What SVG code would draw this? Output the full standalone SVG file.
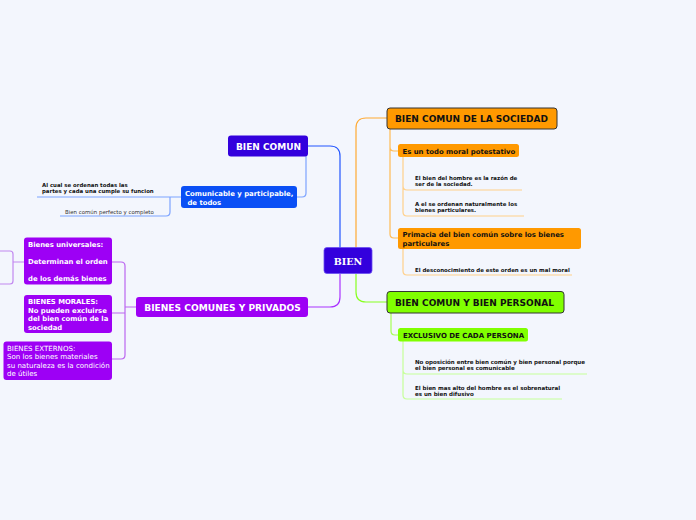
<svg xmlns="http://www.w3.org/2000/svg" width="696" height="520" viewBox="0 0 696 520">
<style>
.b{font-family:"DejaVu Sans",Verdana,sans-serif;font-weight:bold}
.r{font-family:"DejaVu Sans",Verdana,sans-serif}
.w{fill:#fff}
.k{fill:#111}
.s{font-size:5.45px}
.c{fill:none;stroke-width:1.2}
</style>
<rect width="696" height="520" fill="#f3f6fd"/>
<g id="connectors">
<path class="c" d="M308,146 H330 Q340,146 340,156 V248" stroke="#2255ff"/>
<path class="c" d="M356,248 V128 Q356,118 366,118 H387" stroke="#ffaa33"/>
<path class="c" d="M356,274 V292 Q356,302 366,302 H387" stroke="#88ff22"/>
<path class="c" d="M340,274 V297 Q340,307 330,307 H308" stroke="#aa33ff"/>
<path class="c" d="M306,156 V193 Q306,197 302,197 H297" stroke="#7da3ff"/>
<path class="c" d="M181,197 H37 M170,197 V212 Q170,216 166,216 H60" stroke="#7da3ff"/>
<path class="c" d="M390,129 V147 Q390,151 394,151 H398 M390,147 V234 Q390,238 394,238 H398" stroke="#ffbb55"/>
<path class="c" d="M403,157 V186 Q403,190 407,190 H522 M403,186 V212 Q403,216 407,216 H524" stroke="#ffd08a"/>
<path class="c" d="M403,249 V271 Q403,275 407,275 H572" stroke="#ffd08a"/>
<path class="c" d="M391,313 V331 Q391,335 395,335 H398" stroke="#a6ff55"/>
<path class="c" d="M403,341 V370 Q403,374 407,374 H587 M403,370 V395 Q403,399 407,399 H562" stroke="#c6ff99"/>
<path class="c" d="M136,307 H125 M112,262 H121 Q125,262 125,266 V355 Q125,359 121,359 H112 M125,313 H112" stroke="#bb66f0"/>
<path class="c" d="M24,262 H13 M0,251 H10 Q13,251 13,254 V281 Q13,284 10,284 H0" stroke="#c288f0"/>
</g>
<g id="bien">
<rect x="324" y="247.5" width="48" height="26" rx="3" fill="#3300dd" stroke="#6a4ff0" stroke-width="0.8"/>
<text x="348" y="264.5" text-anchor="middle" font-family="'DejaVu Serif','Liberation Serif',serif" font-weight="bold" font-size="9.5" class="w">BIEN</text>
</g>
<g id="bien-comun">
<rect x="228" y="135.5" width="80" height="21" rx="3" fill="#3300dd"/>
<text x="268.5" y="149.5" text-anchor="middle" class="b w" font-size="9">BIEN COMUN</text>
</g>
<g id="comunicable">
<rect x="181" y="186" width="116" height="22" rx="3" fill="#0a4ff5"/>
<text class="b w" font-size="6.9"><tspan x="185" y="195.5">Comunicable y participable,</tspan><tspan x="185" y="204.5"> de todos</tspan></text>
</g>
<g id="al-cual">
<text class="b k" font-size="5.4"><tspan x="42" y="187">Al cual se ordenan todas las</tspan><tspan x="42" y="193">partes y cada una cumple su funcion</tspan></text>
</g>
<g id="perfecto">
<text x="65" y="213.5" class="r s" fill="#333">Bien común perfecto y completo</text>
</g>
<g id="sociedad">
<rect x="387" y="108" width="170" height="21" rx="3" fill="#ff9900" stroke="#333" stroke-width="1"/>
<text x="395" y="122.3" class="b k" font-size="9">BIEN COMUN DE LA SOCIEDAD</text>
</g>
<g id="todo-moral">
<rect x="398" y="144" width="121" height="13" rx="2.5" fill="#ff9900"/>
<text x="402.5" y="153.5" class="b k" font-size="6.9">Es un todo moral potestativo</text>
</g>
<g id="bien-hombre">
<text class="b k s"><tspan x="415" y="180">El bien del hombre es la razón de</tspan><tspan x="415" y="186">ser de la sociedad.</tspan></text>
</g>
<g id="ordenan">
<text class="b k s"><tspan x="415" y="206">A el se ordenan naturalmente los</tspan><tspan x="415" y="212">bienes particulares.</tspan></text>
</g>
<g id="primacia">
<rect x="398" y="228" width="183" height="21" rx="2.5" fill="#ff9900"/>
<text class="b k" font-size="6.9"><tspan x="402.5" y="237">Primacia del bien común sobre los bienes</tspan><tspan x="402.5" y="246">particulares</tspan></text>
</g>
<g id="desconocimiento">
<text x="415" y="272" class="b k s">El desconocimiento de este orden es un mal moral</text>
</g>
<g id="personal">
<rect x="387" y="291.5" width="177" height="21.5" rx="3" fill="#80ff00" stroke="#333" stroke-width="1"/>
<text x="395" y="305.8" class="b k" font-size="9">BIEN COMUN Y BIEN PERSONAL</text>
</g>
<g id="exclusivo">
<rect x="398" y="328" width="130" height="13.5" rx="2.5" fill="#80ff00"/>
<text x="403" y="337.8" class="b k" font-size="7">EXCLUSIVO DE CADA PERSONA</text>
</g>
<g id="no-oposicion">
<text class="b k" font-size="5.5"><tspan x="415" y="364">No oposición entre bien común y bien personal porque</tspan><tspan x="415" y="370">el bien personal es comunicable</tspan></text>
</g>
<g id="mas-alto">
<text class="b k" font-size="5.5"><tspan x="415" y="390">El bien mas alto del hombre es el sobrenatural</tspan><tspan x="415" y="396">es un bien difusivo</tspan></text>
</g>
<g id="comunes-privados">
<rect x="136" y="297" width="172" height="20" rx="3" fill="#9d00f5"/>
<text x="222.5" y="310.8" text-anchor="middle" class="b w" font-size="9.1">BIENES COMUNES Y PRIVADOS</text>
</g>
<g id="universales">
<rect x="24" y="237.5" width="88" height="47" rx="3" fill="#9d00f5"/>
<text class="b w" font-size="6.85"><tspan x="28" y="247">Bienes universales:</tspan><tspan x="28" y="264">Determinan el orden</tspan><tspan x="28" y="281">de los demás bienes</tspan></text>
</g>
<g id="morales">
<rect x="24" y="295" width="88" height="38" rx="3" fill="#9d00f5"/>
<text class="b w" font-size="6.85"><tspan x="28" y="304">BIENES MORALES:</tspan><tspan x="28" y="312.7">No pueden excluirse</tspan><tspan x="28" y="321.4">del bien común de la</tspan><tspan x="28" y="330">sociedad</tspan></text>
</g>
<g id="externos">
<rect x="3.5" y="341.5" width="108.5" height="38.5" rx="3" fill="#9d00f5"/>
<text class="r w" font-size="7.05"><tspan x="7" y="350.5">BIENES EXTERNOS:</tspan><tspan x="7" y="359">Son los bienes materiales</tspan><tspan x="7" y="367.7">su naturaleza es la condición</tspan><tspan x="7" y="376.3">de útiles</tspan></text>
</g>
</svg>
